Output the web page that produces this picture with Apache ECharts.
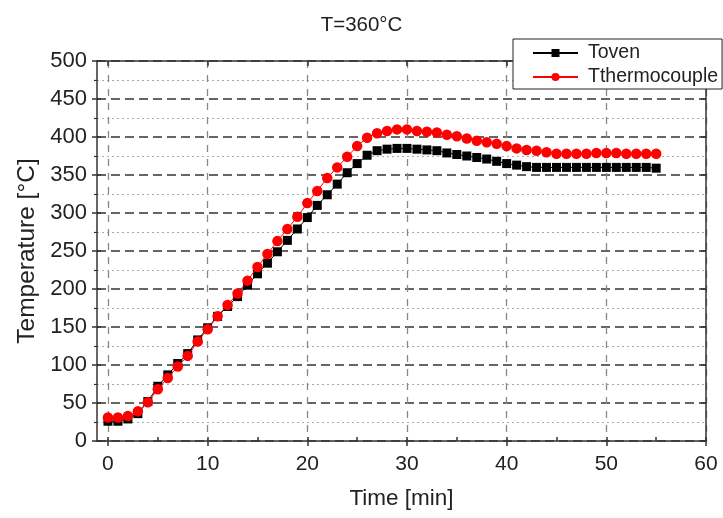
<!DOCTYPE html>
<html>
<head>
<meta charset="utf-8">
<script src="https://cdn.jsdelivr.net/npm/echarts@6/dist/echarts.min.js"></script>
<style>
html,body{margin:0;padding:0;background:#fff;}
#chart{width:723px;height:518px;}
</style>
</head>
<body>
<div id="chart"></div>
<script>
const timeMin = [0,1,2,3,4,5,6,7,8,9,10,11,12,13,14,15,16,17,18,19,20,21,22,23,24,25,26,27,28,29,30,31,32,33,34,35,36,37,38,39,40,41,42,43,44,45,46,47,48,49,50,51,52,53,54,55];
const tOven = [26,26,29,36,52,72,87,102,115,133,149,164,177,190,205,220,234,249,264,279,294,310,324,338,353,365,376,382,384,385,385,384,383,382,379,377,375,373,371,368,365,363,361,360,360,360,360,360,360,360,360,360,360,360,360,359];
const tThermo = [31,31,33,39,51,68,83,98,112,131,147,164,179,194,211,229,246,263,279,295,313,329,346,360,374,388,399,405,408,410,410,408,407,406,403,401,398,395,393,391,388,385,383,382,380,378,378,378,378,379,379,379,378,378,378,378];
const xMajorTicks = [0,10,20,30,40,50,60];
const xMinorTicks = [5,15,25,35,45,55];
const seriesNames = ['Toven','Tthermocouple'];
const titleText = 'T=360°C';
const xName = 'Time [min]';
const yName = 'Temperature [°C]';

const FONT = '"Liberation Sans", Arial, sans-serif';
const chart = echarts.init(document.getElementById('chart'));
const pairs = (ys) => timeMin.map((t, i) => [t, ys[i]]);

chart.setOption({
  animation: false,
  backgroundColor: '#fff',
  title: {
    text: titleText, left: 'center', top: 10,
    textStyle: {fontFamily: FONT, fontSize: 20.5, fontWeight: 'normal', color: '#222'}
  },
  legend: {
    orient: 'vertical', left: 513, top: 39,
    backgroundColor: '#fff', borderColor: '#222', borderWidth: 1,
    padding: [4, 4, 2, 19], itemGap: 4, itemWidth: 45, itemHeight: 10,
    textStyle: {fontFamily: FONT, fontSize: 19.5, color: '#222', padding: [0, 0, 0, 5]},
    data: seriesNames
  },
  grid: {left: 97, right: 17, top: 61, bottom: 77},
  xAxis: [
    {
      type: 'value', min: -1.1, max: 60, position: 'bottom',
      name: xName, nameLocation: 'middle', nameGap: 46,
      nameTextStyle: {fontFamily: FONT, fontSize: 22.5, color: '#222'},
      axisLine: {show: true, onZero: false, lineStyle: {color: '#333', width: 1.5}},
      axisTick: {show: true, inside: false, length: 5, customValues: xMajorTicks, lineStyle: {color: '#333', width: 1.5}},
      axisLabel: {customValues: xMajorTicks, margin: 13, fontFamily: FONT, fontSize: 21, color: '#222'},
      splitLine: {show: true, lineStyle: {color: '#888', width: 1.3, type: [7, 7]}}
    },
    {
      type: 'value', min: -1.1, max: 60, position: 'bottom',
      axisLine: {show: false, onZero: false},
      axisTick: {show: true, inside: true, length: 4, customValues: xMajorTicks.concat(xMinorTicks), lineStyle: {color: '#333', width: 1.5}},
      axisLabel: {show: false, customValues: xMajorTicks},
      splitLine: {show: false}
    },
    {
      type: 'value', min: -1.1, max: 60, position: 'top',
      axisLine: {show: true, onZero: false, lineStyle: {color: '#333', width: 1.5}},
      axisTick: {show: true, inside: true, length: 5, customValues: xMajorTicks, lineStyle: {color: '#333', width: 1.5}},
      axisLabel: {show: false, customValues: xMajorTicks},
      splitLine: {show: false}
    }
  ],
  yAxis: [
    {
      type: 'value', min: 0, max: 500, interval: 50, position: 'left',
      name: yName, nameLocation: 'middle', nameGap: 57,
      nameTextStyle: {fontFamily: FONT, fontSize: 24.5, color: '#222'},
      axisLine: {show: true, onZero: false, lineStyle: {color: '#333', width: 1.5}},
      axisTick: {show: true, inside: false, length: 5, lineStyle: {color: '#333', width: 1.5}},
      minorTick: {show: true, splitNumber: 2, length: 3, lineStyle: {color: '#333', width: 1.2}},
      axisLabel: {margin: 10, fontFamily: FONT, fontSize: 22, color: '#222'},
      splitLine: {show: true, lineStyle: {color: '#333', width: 1.6, type: [9, 5]}},
      minorSplitLine: {show: true, lineStyle: {color: '#aaa', width: 1, type: [2, 3]}}
    },
    {
      type: 'value', min: 0, max: 500, interval: 50, position: 'left',
      axisLine: {show: false, onZero: false},
      axisTick: {show: true, inside: true, length: 4, lineStyle: {color: '#333', width: 1.5}},
      minorTick: {show: false},
      axisLabel: {show: false},
      splitLine: {show: false}
    },
    {
      type: 'value', min: 0, max: 500, interval: 50, position: 'right',
      axisLine: {show: true, onZero: false, lineStyle: {color: '#333', width: 1.5}},
      axisTick: {show: true, inside: true, length: 5, lineStyle: {color: '#333', width: 1.5}},
      axisLabel: {show: false},
      splitLine: {show: false}
    }
  ],
  series: [
    {
      name: seriesNames[0], type: 'line', data: pairs(tOven),
      symbol: 'rect', symbolSize: 9,
      itemStyle: {color: '#000'},
      lineStyle: {color: '#000', width: 1},
      z: 3
    },
    {
      name: seriesNames[1], type: 'line', data: pairs(tThermo),
      symbol: 'circle', symbolSize: 10.5,
      itemStyle: {color: '#ff0000'},
      lineStyle: {color: '#ff0000', width: 1},
      z: 4
    }
  ]
});
</script>
</body>
</html>
